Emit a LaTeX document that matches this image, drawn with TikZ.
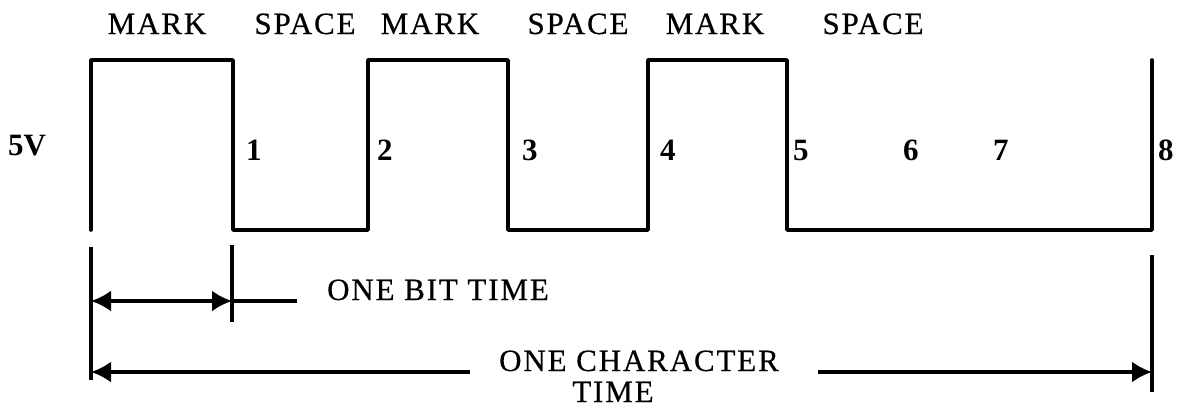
\documentclass[tikz,border=0pt]{standalone}
\usepackage{fontspec}
\setmainfont{Liberation Serif}
\newfontfamily\labfont{Liberation Serif}[LetterSpace=6, FakeBold=0.5]
\usetikzlibrary{arrows.meta}

\tikzset{
  wave/.style={line width=3.6pt, line join=round, line cap=round},
  dimline/.style={line width=3.2pt},
  tip/.tip={Latex[length=20pt,width=21pt]},
  dimarrow/.style={dimline, -tip},
  lbl/.style={inner sep=0pt, anchor=base, font=\fontsize{31}{36}\selectfont\labfont},
  bitnum/.style={inner sep=0pt, anchor=base west, font=\fontsize{31}{36}\selectfont\bfseries}
}

\begin{document}
\begin{tikzpicture}[x=1pt, y=-1pt]
  \useasboundingbox (0,0) rectangle (1185,407);

  % signal levels
  \def\hi{60}
  \def\lo{230}

  % edges of the serial waveform
  \coordinate (e0) at (91,\hi);
  \coordinate (e1) at (233,\hi);
  \coordinate (e2) at (368,\hi);
  \coordinate (e3) at (508,\hi);
  \coordinate (e4) at (648,\hi);
  \coordinate (e5) at (787,\hi);
  \coordinate (e8) at (1152,\hi);

  % waveform
  \draw[wave] (e0 |- 0,\lo) -- (e0) -- (e1) -- (e1 |- 0,\lo) -- (e2 |- 0,\lo)
    -- (e2) -- (e3) -- (e3 |- 0,\lo) -- (e4 |- 0,\lo) -- (e4) -- (e5)
    -- (e5 |- 0,\lo) -- (e8 |- 0,\lo) -- (e8);

  % state labels
  \node[lbl] (m1) at (157,34) {MARK};
  \node[lbl] (s1) at (305,34) {SPACE};
  \node[lbl] (m2) at (430,34) {MARK};
  \node[lbl] (s2) at (578,34) {SPACE};
  \node[lbl] (m3) at (715,34) {MARK};
  \node[lbl] (s3) at (873,34) {SPACE};

  % level and bit numbers
  \node[bitnum] (v5) at (8,155) {5V};
  \node[bitnum] (b1) at (246,160) {1};
  \node[bitnum] (b2) at (377,160) {2};
  \node[bitnum] (b3) at (522,160) {3};
  \node[bitnum] (b4) at (660,160) {4};
  \node[bitnum] (b5) at (793,160) {5};
  \node[bitnum] (b6) at (903,160) {6};
  \node[bitnum] (b7) at (993,160) {7};
  \node[bitnum] (b8) at (1158,160) {8};

  % extension lines
  \coordinate (xl0) at (91,247);   \coordinate (xl1) at (91,380);
  \coordinate (xb0) at (232,245);  \coordinate (xb1) at (232,322);
  \coordinate (xr0) at (1152,255); \coordinate (xr1) at (1152,392);
  \draw[dimline] (xl0) -- (xl1);
  \draw[dimline] (xb0) -- (xb1);
  \draw[dimline] (xr0) -- (xr1);

  % one bit time
  \coordinate (bl) at (91,301);
  \coordinate (br) at (232,301);
  \coordinate (bt) at (297,301);
  \draw[dimline, tip-tip] (bl) -- (br);
  \draw[dimline] (br) -- (bt);
  \node[lbl] (onebit) at (438,300) {ONE BIT TIME};

  % one character time
  \coordinate (cl) at (91,372);
  \coordinate (cr) at (1152,372);
  \coordinate (cm1) at (470,372);
  \coordinate (cm2) at (818,372);
  \draw[dimarrow] (cm1) -- (cl);
  \draw[dimarrow] (cm2) -- (cr);
  \node[lbl] (onechar) at (639,371) {ONE CHARACTER};
  \node[lbl] (chartime) at (613,402) {TIME};
\end{tikzpicture}
\end{document}
